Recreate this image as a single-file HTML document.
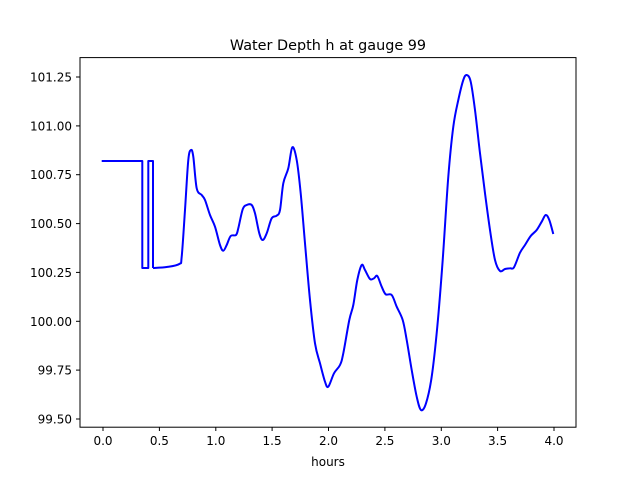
<!DOCTYPE html>
<html><head><meta charset="utf-8"><style>
body{margin:0;background:#fff}
svg text{font-family:"DejaVu Sans","Liberation Sans",sans-serif;fill:#000}
</style></head><body>
<svg width="640" height="480" viewBox="0 0 640 480" xmlns="http://www.w3.org/2000/svg">
<rect width="640" height="480" fill="#fff"/>
<text x="328" y="50" font-size="14.4" text-anchor="middle">Water Depth h at gauge 99</text>
<polyline fill="none" stroke="#0000ff" stroke-width="2" stroke-linejoin="round" points="101.7,161 142.3,161 142.3,268 148.3,268 148.3,161 153,161 153,268"/>
<path id="smooth" fill="none" stroke="#0000ff" stroke-width="2" stroke-linejoin="round" d=""/>
<rect x="80" y="57.6" width="496" height="369.6" fill="none" stroke="#000" stroke-width="1"/>
<g stroke="#000" stroke-width="1">
<line x1="103" y1="427" x2="103" y2="431"/><line x1="159.4" y1="427" x2="159.4" y2="431"/><line x1="215.8" y1="427" x2="215.8" y2="431"/><line x1="272.1" y1="427" x2="272.1" y2="431"/><line x1="328.5" y1="427" x2="328.5" y2="431"/><line x1="384.9" y1="427" x2="384.9" y2="431"/><line x1="441.3" y1="427" x2="441.3" y2="431"/><line x1="497.6" y1="427" x2="497.6" y2="431"/><line x1="554" y1="427" x2="554" y2="431"/>
<line x1="76" y1="77" x2="80" y2="77"/><line x1="76" y1="125.9" x2="80" y2="125.9"/><line x1="76" y1="174.7" x2="80" y2="174.7"/><line x1="76" y1="223.6" x2="80" y2="223.6"/><line x1="76" y1="272.4" x2="80" y2="272.4"/><line x1="76" y1="321.3" x2="80" y2="321.3"/><line x1="76" y1="370.1" x2="80" y2="370.1"/><line x1="76" y1="419" x2="80" y2="419"/>
</g>
<g font-size="12" text-anchor="middle">
<text x="103" y="445">0.0</text><text x="159.4" y="445">0.5</text><text x="215.8" y="445">1.0</text><text x="272.1" y="445">1.5</text><text x="328.5" y="445">2.0</text><text x="384.9" y="445">2.5</text><text x="441.3" y="445">3.0</text><text x="497.6" y="445">3.5</text><text x="554" y="445">4.0</text>
<text x="328" y="466">hours</text>
</g>
<g font-size="12" text-anchor="end">
<text x="72" y="81.5">101.25</text><text x="72" y="130.4">101.00</text><text x="72" y="179.2">100.75</text><text x="72" y="228.1">100.50</text><text x="72" y="276.9">100.25</text><text x="72" y="325.8">100.00</text><text x="72" y="374.6">99.75</text><text x="72" y="423.5">99.50</text>
</g>
</svg>
<script>
var s="153,268 166.7,267 179.3,264 181.7,256.7 185,210 188.3,160 191,150 193.3,156.7 196.7,188.3 201.7,195 205,200 210,215 215,226.7 220,245 223.3,250.7 226.7,245 230.7,236 236,235 238.3,228.3 242.7,209.3 246.7,205 251.7,205 255,213.3 259.3,233.3 262.7,240 266.7,233.3 271.7,218.3 276.7,215.7 280,210 283.3,183.3 288.3,168.3 292.3,147.3 296.7,160 300.7,193.3 305,243.3 310,300 315,343.3 320,363.3 325,381.7 328.3,386.7 334,373.3 340,365 343.3,353.3 349.3,320 353.3,305 357.3,280 361.7,265 365,270 370,279 374,278.3 377.3,276 381.7,286.7 385.7,294.3 391.7,295 396.7,306.7 402.7,320 406.7,340 411.7,370 416.7,396.7 421,410 426,403.3 431.7,376.7 437.3,326.7 442.7,260 448.3,176.7 453.3,126.7 458.3,100 463.3,80 466.7,75 470.7,81.7 475,110 480,153.3 485,193.3 490,230 495,260 500,271 505,269 510,268.3 514,267.3 520,252.7 525,245 530.7,236 536.7,230 541.7,221.7 545.7,215 549.3,220 553.3,234";
var p=s.split(" ").map(function(a){return a.split(",").map(Number);});
var d="M"+p[0][0]+","+p[0][1];
for(var i=0;i<p.length-1;i++){
var p0=p[Math.max(0,i-1)],p1=p[i],p2=p[i+1],p3=p[Math.min(p.length-1,i+2)];
var c1x=p1[0]+(p2[0]-p0[0])/6,c1y=p1[1]+(p2[1]-p0[1])/6;
var c2x=p2[0]-(p3[0]-p1[0])/6,c2y=p2[1]-(p3[1]-p1[1])/6;
d+=" C"+c1x.toFixed(2)+","+c1y.toFixed(2)+" "+c2x.toFixed(2)+","+c2y.toFixed(2)+" "+p2[0]+","+p2[1];
}
document.getElementById("smooth").setAttribute("d",d);
</script>
</body></html>
